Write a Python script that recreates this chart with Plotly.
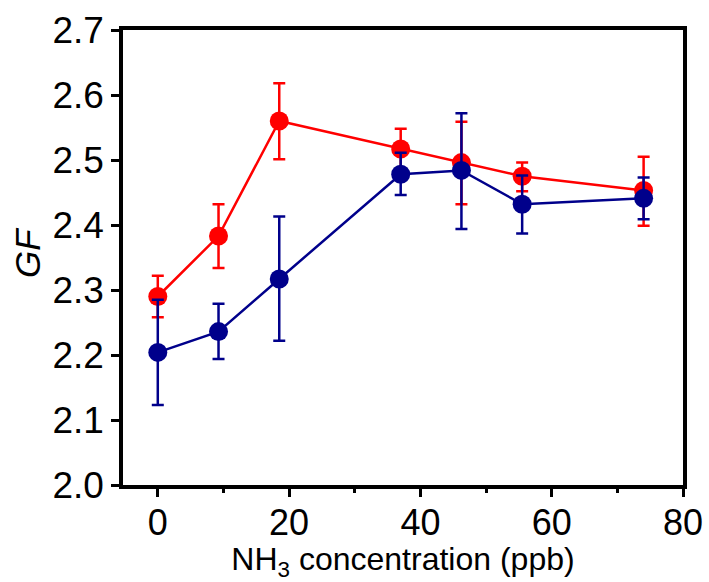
import plotly.graph_objects as go

x_vals = [0, 9.25, 18.5, 37, 46.25, 55.5, 74]
red_y = [2.290, 2.383, 2.560, 2.517, 2.496, 2.475, 2.453]
red_hi = [2.322, 2.432, 2.618, 2.548, 2.559, 2.496, 2.505]
red_lo = [2.258, 2.334, 2.501, 2.485, 2.432, 2.452, 2.399]
blue_y = [2.204, 2.236, 2.317, 2.478, 2.484, 2.432, 2.441]
blue_hi = [2.285, 2.279, 2.413, 2.511, 2.572, 2.476, 2.473]
blue_lo = [2.123, 2.194, 2.222, 2.446, 2.394, 2.387, 2.409]

RED = "#FF0000"
BLUE = "#00008B"

def trace(y, hi, lo, color):
    return go.Scatter(
        x=x_vals, y=y, mode="lines+markers",
        line=dict(color=color, width=2.5),
        marker=dict(color=color, size=19),
        error_y=dict(type="data", symmetric=False,
                     array=[h - v for h, v in zip(hi, y)],
                     arrayminus=[v - l for v, l in zip(y, lo)],
                     color=color, thickness=2.5, width=6),
        showlegend=False,
    )

fig = go.Figure()
fig.add_trace(trace(red_y, red_hi, red_lo, RED))
fig.add_trace(trace(blue_y, blue_hi, blue_lo, BLUE))

font = "Liberation Sans, Arial, sans-serif"
fig.update_layout(
    width=709, height=582,
    margin=dict(l=123, r=26, t=30, b=97),
    paper_bgcolor="white", plot_bgcolor="white",
    font=dict(family=font, size=26, color="black"),
    xaxis=dict(range=[-5.3, 80], tickvals=[0, 20, 40, 60, 80],
               ticks="outside", ticklen=8, tickwidth=3, tickcolor="black",
               minor=dict(tickvals=[10, 30, 50, 70], ticks="outside", ticklen=4, tickwidth=3, tickcolor="black"),
               showline=True, linewidth=3.5, linecolor="black", mirror=True,
               showgrid=False, zeroline=False, automargin=False,
               ticklabelstandoff=-5,
               tickfont=dict(size=36),
               title=dict(text="NH<sub>3</sub> concentration (ppb)", font=dict(size=32))),
    yaxis=dict(range=[2.0, 2.7], tickvals=[2.0, 2.1, 2.2, 2.3, 2.4, 2.5, 2.6, 2.7],
               ticktext=["2.0", "2.1", "2.2", "2.3", "2.4", "2.5", "2.6", "2.7"],
               ticks="outside", ticklen=8, tickwidth=3, tickcolor="black",
               showline=True, linewidth=3.5, linecolor="black", mirror=True,
               showgrid=False, zeroline=False, automargin=False,
               tickfont=dict(size=37)),
    annotations=[dict(text="<i>GF</i>", xref="paper", yref="paper",
                      x=-0.1696, y=0.51, xanchor="center", yanchor="middle",
                      textangle=-90, showarrow=False, font=dict(size=35))],
)

fig.write_html("out.html")
